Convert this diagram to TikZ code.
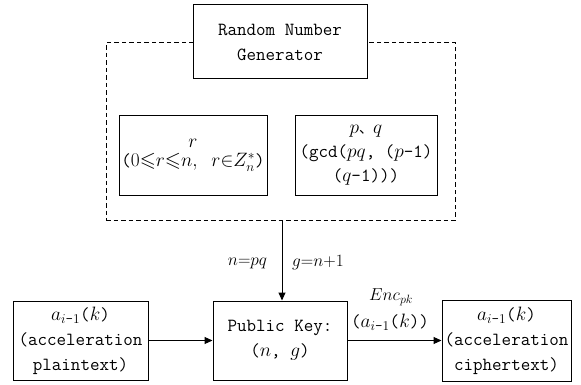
\documentclass[tikz,border=0pt]{standalone}
\usepackage{amsmath,amssymb,graphicx}
\usepackage{fontspec}
\setmonofont{Latin Modern Mono}
\newfontfamily\cjk{Noto Sans CJK SC}
\usetikzlibrary{arrows.meta}
% math set a little larger so it sits level with the mono text
\newcommand\mth[1]{\scalebox{1.12}{$#1$}}
\tikzset{
  box/.style={draw, line width=1pt, fill=white, align=center, inner sep=0pt,
    font=\ttfamily\fontsize{18.5}{25}\selectfont},
  flow/.style={line width=1pt, -{Triangle[length=8pt,width=7pt]}},
  lbl/.style={font=\fontsize{18}{20}\selectfont, inner sep=0pt}
}
\begin{document}
\begin{tikzpicture}[x=1pt,y=-1pt]
\useasboundingbox (0,0) rectangle (581,385);
% generator area
\node[draw, line width=1pt, dash pattern=on 4.5pt off 3pt, minimum width=349pt, minimum height=177pt] (gen) at (280.5,131.5) {};
\node[box, minimum width=174pt, minimum height=74pt] (rng) at (280,42) {Random Number\\Generator};
\node[box, minimum width=148pt, minimum height=79pt, font=\ttfamily\fontsize{18.5}{19}\selectfont] (rbox) at (193,155.5)
  {\mth{r}\\(\mth{0{\leqslant}r{\leqslant}n,\ r{\in}Z^{*}_{n}})};
\node[box, minimum width=142pt, minimum height=79pt, font=\ttfamily\fontsize{18.5}{24}\selectfont] (pqbox) at (366,155.5)
  {\mth{p}{\cjk\fontsize{14}{14}\selectfont 、}\mth{q}\\(gcd(\mth{pq}, (\mth{p}-1)\\(\mth{q}-1)))};
% encryption row
\node[box, minimum width=135pt, minimum height=79pt] (plain) at (80.5,340.5)
  {\mth{a_{i\text{-}1}}(\mth{k})\\(acceleration\\plaintext)};
\node[box, minimum width=134pt, minimum height=79pt] (pk) at (280,340.5)
  {Public Key:\\(\mth{n}, \mth{g})};
\node[box, minimum width=129pt, minimum height=81pt] (cipher) at (506.5,340.5)
  {\mth{a_{i\text{-}1}}(\mth{k})\\(acceleration\\ciphertext)};
% connectors
\draw[flow] ([xshift=1.5pt]gen.south) -- ([xshift=1.5pt]gen.south |- pk.north);
\node[lbl] (npq) at (247.5,263) {$n{=}pq$};
\node[lbl] (gn) at (318,263) {$g{=}n{+}1$};
\draw[flow] (plain.east) -- (pk.west);
\draw[flow] (pk.east) -- (pk.east -| cipher.west);
\node[lbl] (enc) at (391,297) {$Enc_{pk}$};
\node[lbl, font=\ttfamily\fontsize{18.5}{20}\selectfont] (encarg) at (390,322) {(\mth{a_{i\text{-}1}}(\mth{k}))};
\end{tikzpicture}
\end{document}
